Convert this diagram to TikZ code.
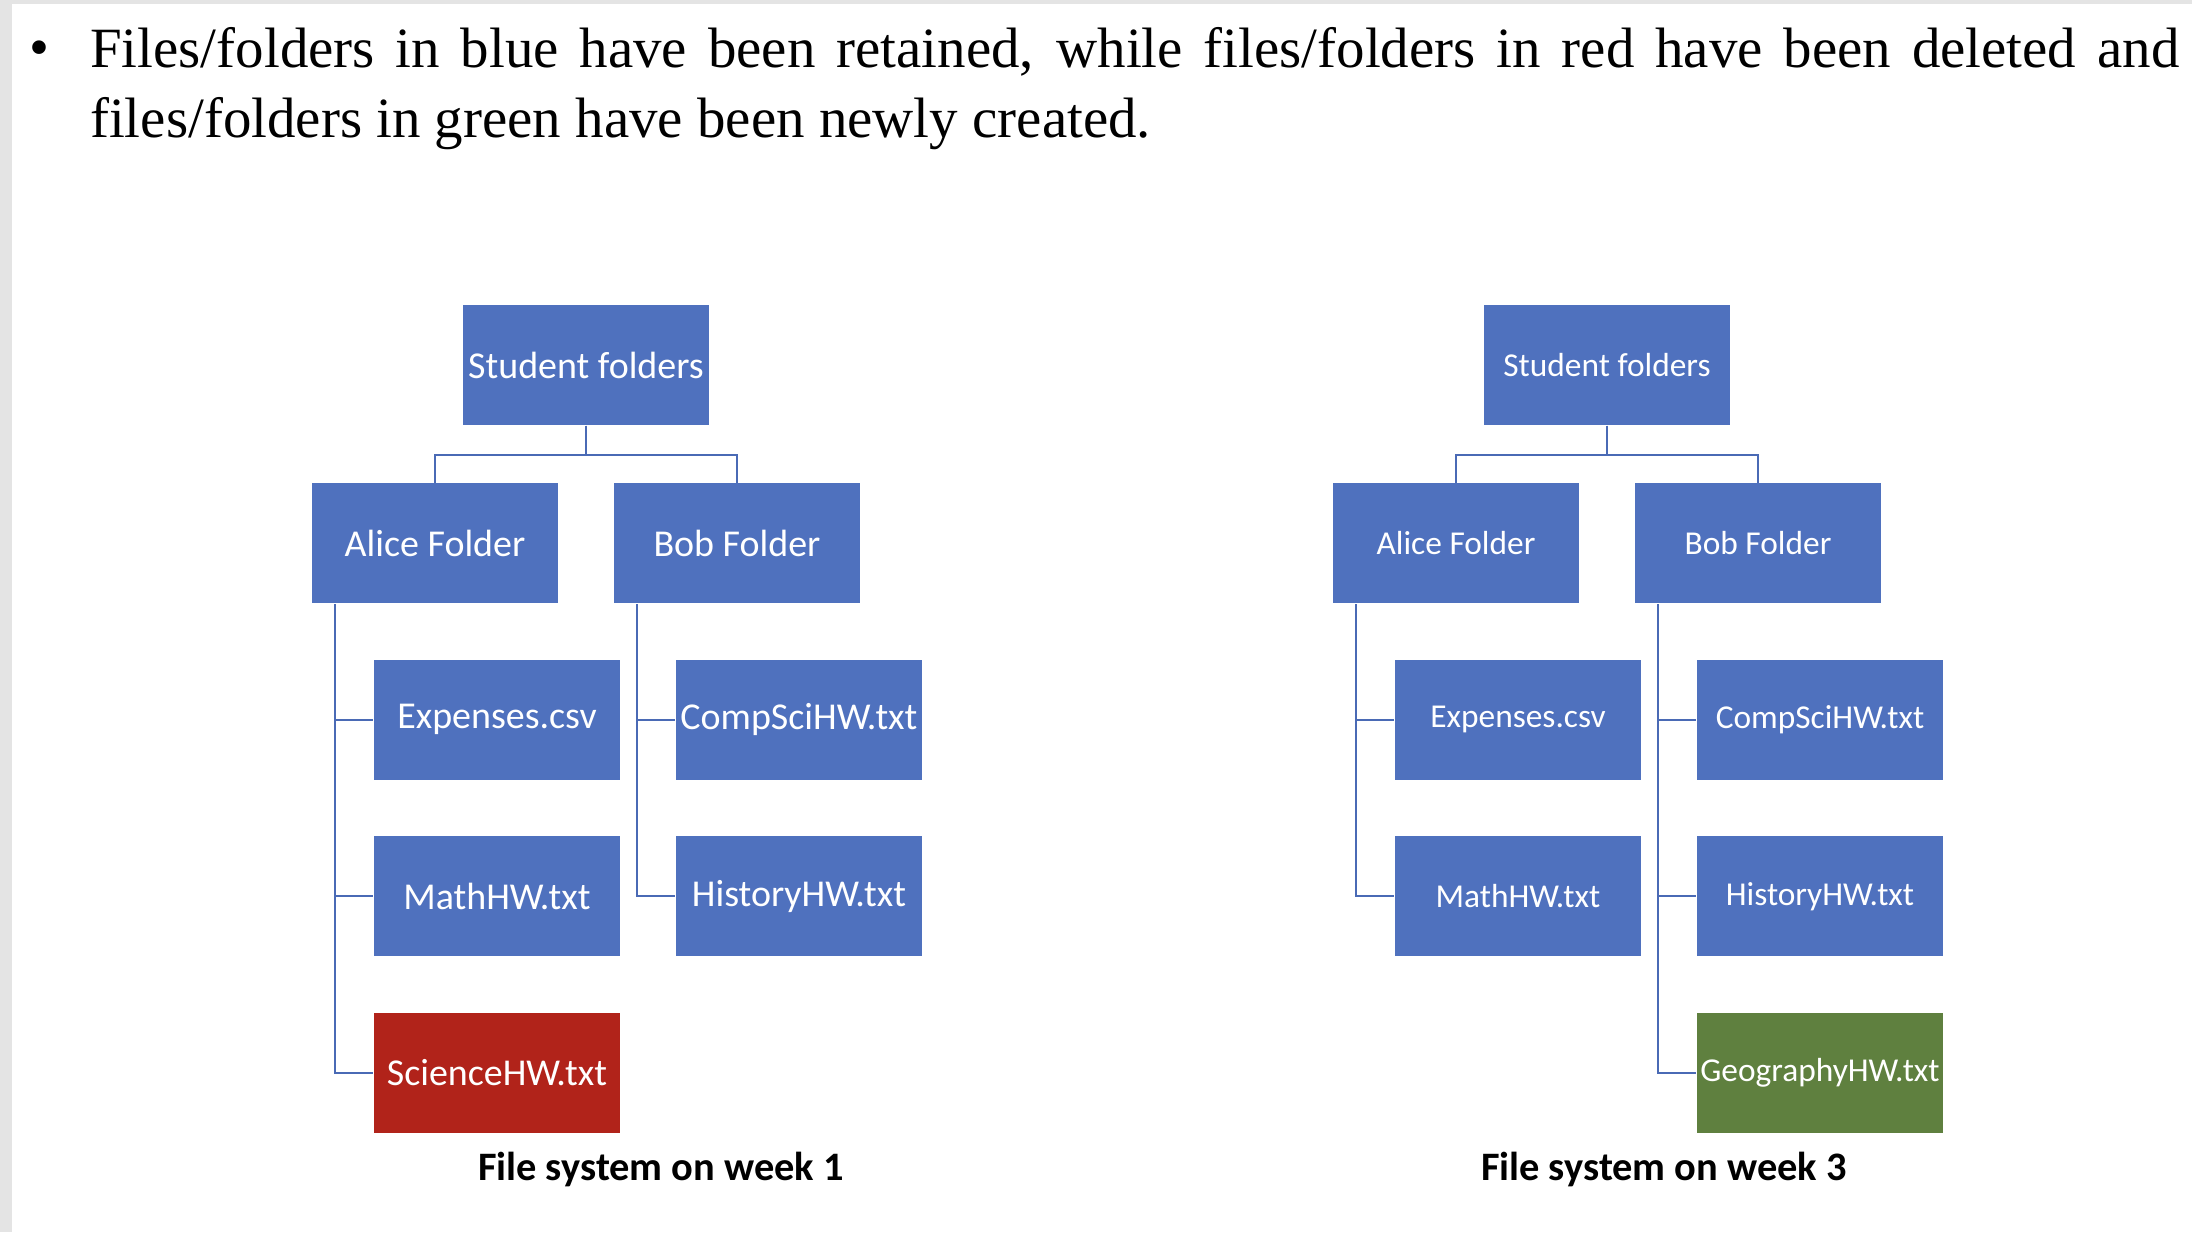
\documentclass[tikz,border=0pt]{standalone}
\usepackage{fontspec}
\setmainfont{Liberation Serif}
\newfontfamily\boxfont{Carlito}
\usetikzlibrary{positioning}
\definecolor{boxblue}{HTML}{4F71BE}
\definecolor{delred}{HTML}{B1231A}
\definecolor{newgreen}{HTML}{5F803F}
\definecolor{linkblue}{HTML}{4A6AB5}
\definecolor{pagegray}{HTML}{E4E4E4}
\tikzset{
    base/.style={rectangle, inner sep=0pt, align=center, minimum width=2.46cm, minimum height=1.2cm, text=white},
    box/.style={base, fill=boxblue, font=\boxfont\fontsize{10.8}{13}\selectfont},
    smallbox/.style={base, fill=boxblue, font=\boxfont\fontsize{9.5}{12}\selectfont},
    redbox/.style={box, fill=delred},
    greenbox/.style={smallbox, fill=newgreen},
    link/.style={draw=linkblue, line width=0.6pt},
    caption/.style={font=\boxfont\bfseries\fontsize{11.5}{14}\selectfont}
}

\begin{document}
\begin{tikzpicture}[node distance=0.55cm]
    \useasboundingbox (0,0) rectangle (21.92,-12.32);
    \fill[pagegray] (0,0) rectangle (0.12,-12.32);
    \fill[pagegray] (0,0) rectangle (21.92,-0.04);

    % Note at the top
    \node [anchor=base, font=\fontsize{16.2}{19.9}\selectfont] (dot) at (0.39,-0.66) {•};
    \node [anchor=north west, inner sep=0pt, text width=20.89cm, align=justify, font=\fontsize{16.2}{19.9}\selectfont] (note) at (0.895,-0.27) {Files/folders in blue have been retained, while files/folders in red have been deleted and files/folders in green have been newly created.};

    % Week 1
    \node [box] (stud1) at (5.86,-3.65) {Student folders};
    \node [box, below=0.57cm of stud1, xshift=-1.51cm] (alice1) {Alice Folder};
    \node [box, below=0.57cm of stud1, xshift=1.51cm] (bob1) {Bob Folder};
    \node [box, below=of alice1, xshift=0.62cm] (exp1) {Expenses.csv};
    \node [box, below=of exp1] (math1) {MathHW.txt};
    \node [redbox, below=of math1] (sci1) {ScienceHW.txt};
    \node [box, below=of bob1, xshift=0.62cm] (comp1) {CompSciHW.txt};
    \node [box, below=of comp1] (hist1) {HistoryHW.txt};
    \node [caption] (cap1) at (6.61,-11.69) {File system on week 1};

    % Week 3
    \node [smallbox] (stud2) at (16.07,-3.65) {Student folders};
    \node [smallbox, below=0.57cm of stud2, xshift=-1.51cm] (alice2) {Alice Folder};
    \node [smallbox, below=0.57cm of stud2, xshift=1.51cm] (bob2) {Bob Folder};
    \node [smallbox, below=of alice2, xshift=0.62cm] (exp2) {Expenses.csv};
    \node [smallbox, below=of exp2] (math2) {MathHW.txt};
    \node [smallbox, below=of bob2, xshift=0.62cm] (comp2) {CompSciHW.txt};
    \node [smallbox, below=of comp2] (hist2) {HistoryHW.txt};
    \node [greenbox, below=of hist2] (geo2) {GeographyHW.txt};
    \node [caption] (cap2) at (16.64,-11.69) {File system on week 3};

    % Connections
    \draw [link] (stud1.south) -- ++(0,-0.29) -| (alice1.north);
    \draw [link] (stud1.south) -- ++(0,-0.29) -| (bob1.north);
    \draw [link] ([xshift=0.24cm]alice1.south west) |- (exp1.west);
    \draw [link] ([xshift=0.24cm]alice1.south west) |- (math1.west);
    \draw [link] ([xshift=0.24cm]alice1.south west) |- (sci1.west);
    \draw [link] ([xshift=0.24cm]bob1.south west) |- (comp1.west);
    \draw [link] ([xshift=0.24cm]bob1.south west) |- (hist1.west);
    \draw [link] (stud2.south) -- ++(0,-0.29) -| (alice2.north);
    \draw [link] (stud2.south) -- ++(0,-0.29) -| (bob2.north);
    \draw [link] ([xshift=0.24cm]alice2.south west) |- (exp2.west);
    \draw [link] ([xshift=0.24cm]alice2.south west) |- (math2.west);
    \draw [link] ([xshift=0.24cm]bob2.south west) |- (comp2.west);
    \draw [link] ([xshift=0.24cm]bob2.south west) |- (hist2.west);
    \draw [link] ([xshift=0.24cm]bob2.south west) |- (geo2.west);
\end{tikzpicture}
\end{document}
